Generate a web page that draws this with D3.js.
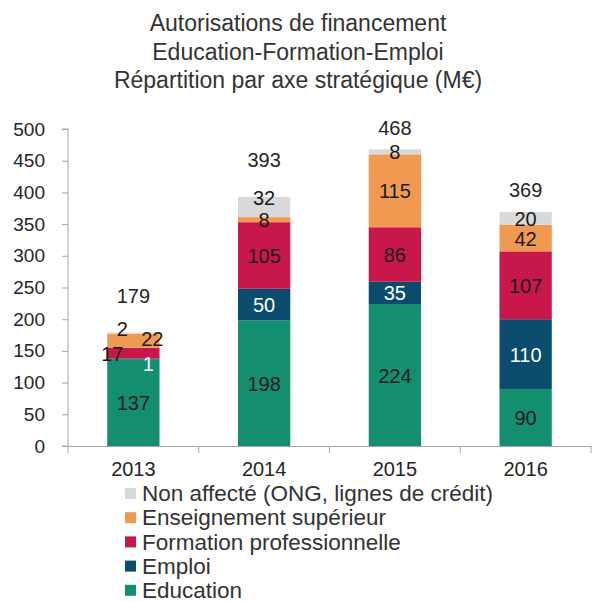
<!DOCTYPE html>
<html>
<head>
<meta charset="utf-8">
<script src="https://cdn.jsdelivr.net/npm/d3@7"></script>
<style>
  body { margin: 0; background: #fff; }
  text { font-family: "Liberation Sans", Arial, sans-serif; fill: #262626; }
  .axis path, .axis line { stroke: #a6a6a6; }
</style>
</head>
<body>
<div id="chart"></div>
<script>
// chart values
let years = ['2013', '2014', '2015', '2016']
let series = ['Education', 'Emploi', 'Formation professionnelle', 'Enseignement supérieur', 'Non affecté (ONG, lignes de crédit)']
let education = [137, 198, 224, 90]
let emploi = [1, 50, 35, 110]
let formation = [17, 105, 86, 107]
let enseignement = [22, 8, 115, 42]
let nonAffecte = [2, 32, 8, 20]
let totals = [179, 393, 468, 369]
let yTicks = [0, 50, 100, 150, 200, 250, 300, 350, 400, 450, 500]
let titleLines = ['Autorisations de financement', 'Education-Formation-Emploi', 'Répartition par axe stratégique (M€)']

let colors = ['#138f6f', '#0a4b6e', '#c8174a', '#ef9a50', '#d9d9d9']
let labelColors = ['#1a1a1a', '#ffffff', '#1a1a1a', '#1a1a1a', '#1a1a1a']

let width = 597
let height = 602
let margin = { top: 129, right: 6, bottom: 157, left: 68 }

let svg = d3.select('#chart')
    .append('svg')
    .attr('width', width)
    .attr('height', height)

// title
svg.append('g')
    .selectAll('text')
    .data(titleLines)
    .join('text')
    .attr('x', 298)
    .attr('y', (d, i) => 31 + i * 28.5)
    .attr('text-anchor', 'middle')
    .style('font-size', '23px')
    .style('fill', '#333')
    .text(d => d)

let table = years.map((y, i) => ({
    year: y,
    values: [education[i], emploi[i], formation[i], enseignement[i], nonAffecte[i]],
    total: totals[i]
}))

let stacked = d3.stack()
    .keys(d3.range(series.length))
    .value((d, k) => d.values[k])(table)

let xScale = d3.scaleBand()
    .domain(years)
    .range([margin.left, width - margin.right])
    .paddingInner(0.6)
    .paddingOuter(0.3)

let yScale = d3.scaleLinear()
    .domain([0, 500])
    .range([height - margin.bottom + 1, margin.top])

// axes
let yAxis = d3.axisLeft(yScale).tickValues(yTicks).tickSize(6).tickPadding(17)
let yAxisEl = svg.append('g')
    .attr('class', 'axis')
    .attr('transform', `translate(${margin.left},0)`)
    .call(yAxis)
yAxisEl.select('.domain').attr('d', `M-6,${yScale(500)}H0V${yScale(0)}H-6`)
yAxisEl.selectAll('text').style('font-size', '19px')

let xAxisEl = svg.append('g')
    .attr('class', 'axis')
    .attr('transform', `translate(0,${yScale(0)})`)
    .call(d3.axisBottom(xScale).tickSize(0).tickPadding(16))
xAxisEl.selectAll('text').style('font-size', '20px')
// category separators
let step = xScale.step()
xAxisEl.append('g')
    .selectAll('line')
    .data(d3.range(years.length + 1))
    .join('line')
    .attr('x1', i => margin.left + i * step)
    .attr('x2', i => margin.left + i * step)
    .attr('y1', 0)
    .attr('y2', 7)
    .attr('stroke', '#a6a6a6')

// bars
let layers = svg.append('g')
    .selectAll('g')
    .data(stacked)
    .join('g')
    .attr('fill', (d, i) => colors[i])

layers.selectAll('rect')
    .data(d => d)
    .join('rect')
    .attr('x', d => xScale(d.data.year))
    .attr('width', xScale.bandwidth())
    .attr('y', d => yScale(d[1]))
    .attr('height', d => yScale(d[0]) - yScale(d[1]))

// label nudges for crowded segments: [year, series index, dx, dy]
let nudges = [['2013', 1, 15, 5], ['2013', 2, -21, 0], ['2013', 3, 19, -2], ['2013', 4, -11, -5], ['2014', 4, 0, -10]]
function nudge(year, k) {
    let n = nudges.find(d => d[0] === year && d[1] === k)
    return n ? [n[2], n[3]] : [0, 0]
}

let labels = svg.append('g')
stacked.forEach((layer, k) => {
    labels.selectAll('.lab' + k)
        .data(layer)
        .join('text')
        .attr('class', 'lab' + k)
        .attr('x', d => xScale(d.data.year) + xScale.bandwidth() / 2 + nudge(d.data.year, k)[0])
        .attr('y', d => yScale((d[0] + d[1]) / 2) + nudge(d.data.year, k)[1])
        .attr('dy', '0.38em')
        .attr('text-anchor', 'middle')
        .style('font-size', '20px')
        .style('fill', labelColors[k])
        .text(d => d.data.values[k])
})

// totals above bars
let totalLift = [37, 37, 21, 22]
labels.selectAll('.total')
    .data(table)
    .join('text')
    .attr('class', 'total')
    .attr('x', d => xScale(d.year) + xScale.bandwidth() / 2)
    .attr('y', (d, i) => yScale(d.total) - totalLift[i])
    .attr('dy', '0.36em')
    .attr('text-anchor', 'middle')
    .style('font-size', '20px')
    .text(d => d.total)

// legend, top to bottom in reverse stack order
let legend = svg.append('g')
    .selectAll('g')
    .data(d3.range(series.length).reverse())
    .join('g')
    .attr('transform', (k, i) => `translate(125,${493 + i * 24.2})`)

legend.append('rect')
    .attr('x', 0)
    .attr('y', -5)
    .attr('width', 11)
    .attr('height', 11)
    .attr('fill', k => colors[k])

legend.append('text')
    .attr('x', 17)
    .attr('dy', '0.36em')
    .style('font-size', '22.5px')
    .style('fill', '#333')
    .text(k => series[k])
</script>
</body>
</html>
